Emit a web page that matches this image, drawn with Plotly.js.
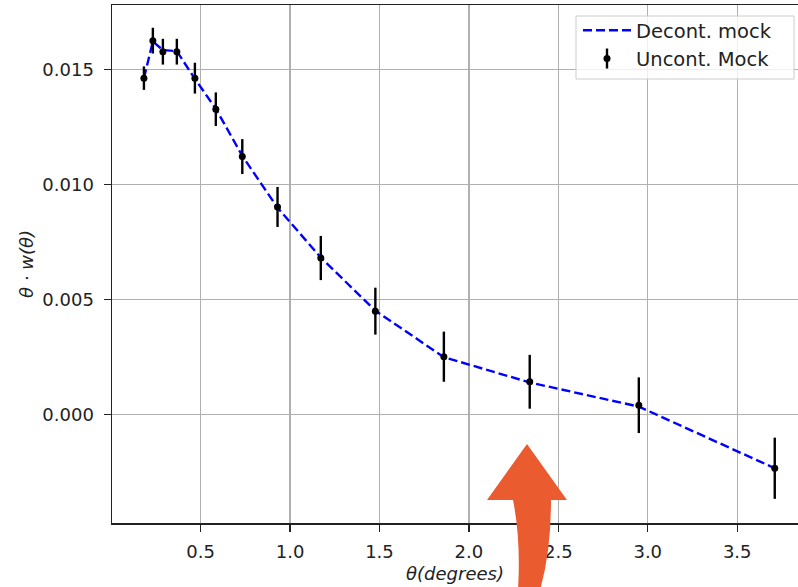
<!DOCTYPE html>
<html>
<head>
<meta charset="utf-8">
<script src="https://cdn.plot.ly/plotly-3.0.1.min.js"></script>
<style>html,body{margin:0;padding:0;background:#fff;}#chart{width:798px;height:587px;}</style>
</head>
<body>
<div id="chart"></div>
<script>
// Data
const theta = [0.183, 0.233, 0.289, 0.367, 0.468, 0.585, 0.733, 0.930, 1.172, 1.477, 1.860, 2.340, 2.950, 3.710];
const uncontMock = [0.01463, 0.01626, 0.01578, 0.01578, 0.01463, 0.01328, 0.01122, 0.00903, 0.00681, 0.00450, 0.00252, 0.00143, 0.00041, -0.00233];
const uncontErr = [0.00051, 0.00056, 0.00056, 0.00056, 0.00067, 0.00073, 0.00076, 0.00087, 0.00096, 0.00102, 0.00109, 0.00117, 0.00121, 0.00133];
const decontMock = [0.01463, 0.01622, 0.01585, 0.01580, 0.01460, 0.01330, 0.01125, 0.00900, 0.00683, 0.00452, 0.00250, 0.00140, 0.00035, -0.00233];
const seriesNames = ["Decont. mock", "Uncont. Mock"];
const xTitle = "<i>θ(degrees)</i>";
const yTitle = "<i>θ · w(θ)</i>";

// plot-area geometry (pixels) used to place the overlay arrow and legend frame
const W = 798, H = 587, L = 112, R = 0, T = 5, B = 64;
const pw = W - L - R, ph = H - T - B;
function px2paperX(x) { return (x - L) / pw; }
function px2paperY(y) { return (H - B - y) / ph; }
function P(x, y) { return px2paperX(x).toFixed(5) + "," + px2paperY(y).toFixed(5); }

const arrowPath = "M" + P(527, 444) + " L" + P(567, 500) + " L" + P(551, 500) +
  " Q" + P(551, 552) + " " + P(540, 590) + " L" + P(518, 590) +
  " Q" + P(521, 540) + " " + P(513, 500) + " L" + P(487, 500) + " Z";

const font = "DejaVu Sans, Liberation Sans, sans-serif";

const traces = [
  {
    x: theta, y: decontMock, type: "scatter", mode: "lines", name: seriesNames[0],
    line: { color: "#0000ff", width: 2.4, dash: "9px,4px" }
  },
  {
    x: theta, y: uncontMock, type: "scatter", mode: "markers", name: seriesNames[1],
    marker: { color: "#000000", size: 7 },
    error_y: { type: "data", array: uncontErr, visible: true, color: "#000000", thickness: 2.4, width: 0 }
  }
];

const axisCommon = {
  showgrid: true, gridcolor: "#b0b0b0", gridwidth: 1.2, zeroline: false,
  showline: true, linecolor: "#222222", linewidth: 1.5,
  ticks: "outside", ticklen: 7, tickwidth: 1.3, tickcolor: "#222222",
  tickfont: { family: font, size: 18, color: "#222222" }
};

const layout = {
  width: W, height: H,
  margin: { l: L, r: R, t: T, b: B, pad: 0 },
  paper_bgcolor: "#ffffff", plot_bgcolor: "#ffffff",
  font: { family: font, size: 18, color: "#222222" },
  xaxis: Object.assign({}, axisCommon, {
    range: [0.0045, 3.84], tick0: 0.5, dtick: 0.5, tickformat: ".1f", mirror: true,
    ticklabelstandoff: 5,
    title: { text: xTitle, font: { family: font, size: 18, color: "#222222" }, standoff: 6 }
  }),
  yaxis: Object.assign({}, axisCommon, {
    range: [-0.00471, 0.01781], tick0: 0, dtick: 0.005, tickformat: ".3f", mirror: false,
    ticklabelstandoff: 6,
    title: { text: yTitle, font: { family: font, size: 18, color: "#222222" }, standoff: 4 }
  }),
  showlegend: true,
  legend: {
    x: px2paperX(578), xanchor: "left", y: px2paperY(11), yanchor: "top",
    bgcolor: "rgba(255,255,255,0)", bordercolor: "#cccccc", borderwidth: 0,
    font: { family: font, size: 19.5, color: "#222222" }, itemwidth: 48
  },
  shapes: [
    { type: "path", xref: "paper", yref: "paper", path: arrowPath, fillcolor: "#eb5b30", line: { width: 0 }, layer: "above" },
    // legend frame: semi-transparent white box with light border over the data
    {
      type: "rect", xref: "paper", yref: "paper",
      x0: px2paperX(576), x1: px2paperX(794), y0: px2paperY(16), y1: px2paperY(79),
      fillcolor: "rgba(255,255,255,0.8)", line: { color: "#cccccc", width: 1 }, layer: "above"
    }
  ]
};

Plotly.newPlot("chart", traces, layout, { staticPlot: true, displayModeBar: false }).then(function (gd) {
  const host = gd.getBoundingClientRect();
  const shapes = layout.shapes.slice();
  // error-bar stroke on the legend glyph of the error-bar series
  const pts = gd.querySelectorAll(".legend .traces .legendpoints path.scatterpts");
  if (pts.length) {
    const r = pts[pts.length - 1].getBoundingClientRect();
    const cx = r.left + r.width / 2 - host.left, cy = r.top + r.height / 2 - host.top;
    shapes.push({
      type: "line", xref: "paper", yref: "paper",
      x0: px2paperX(cx), x1: px2paperX(cx), y0: px2paperY(cy - 10), y1: px2paperY(cy + 10),
      line: { color: "#000000", width: 2.4 }, layer: "above"
    });
  }
  return Plotly.relayout(gd, { shapes: shapes });
});
</script>
</body>
</html>
